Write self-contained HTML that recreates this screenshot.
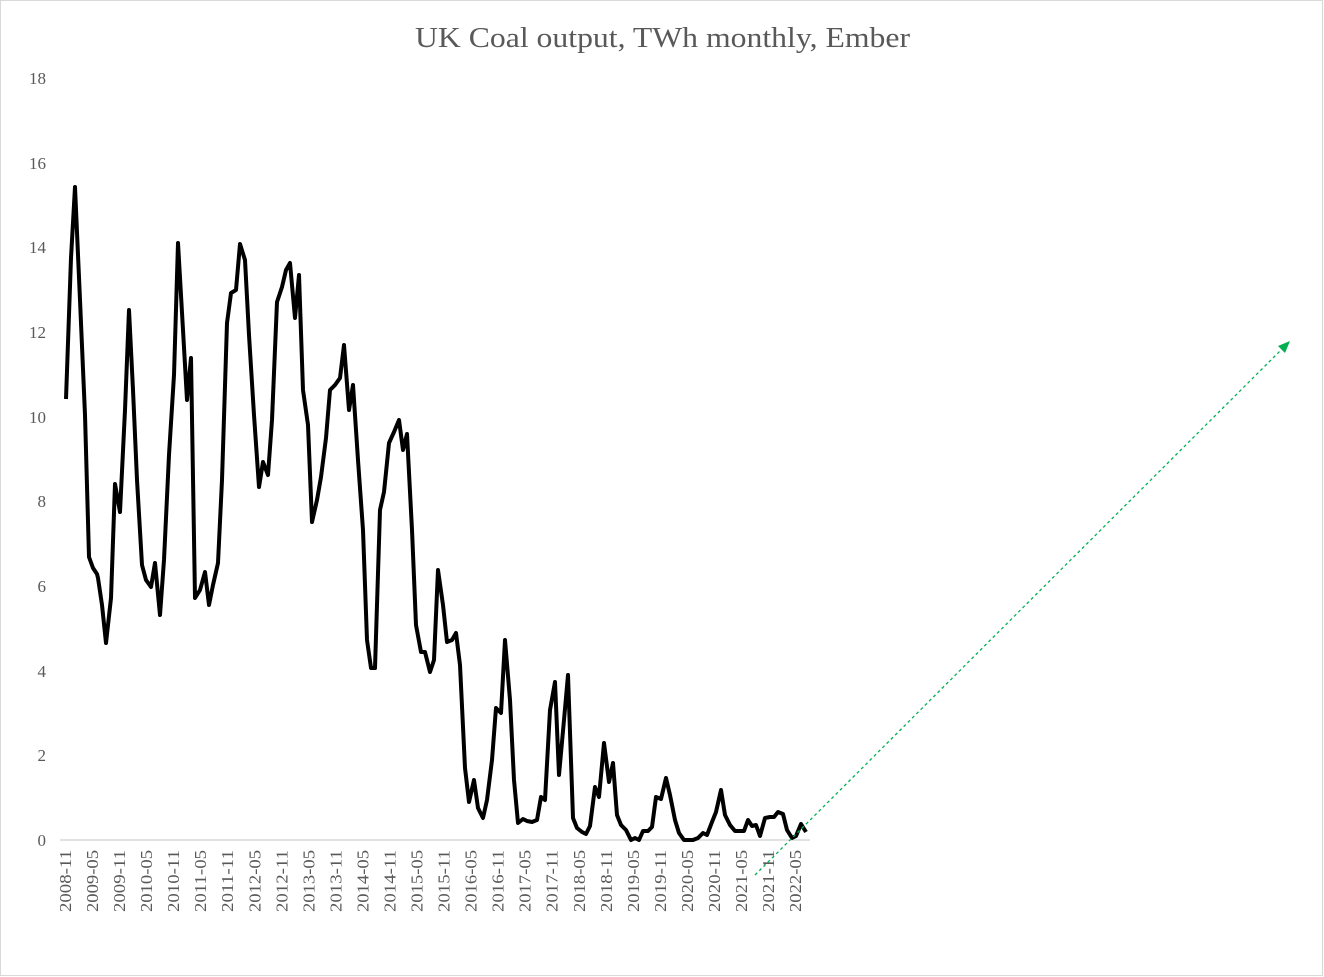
<!DOCTYPE html>
<html><head><meta charset="utf-8"><style>
html,body{margin:0;padding:0;background:#fff}
svg{display:block}
</style></head><body>
<svg width="1324" height="977" xmlns="http://www.w3.org/2000/svg" font-family="'Liberation Serif', serif">
<rect x="0.5" y="0.5" width="1322" height="975" fill="#fff" stroke="#d9d9d9"/>
<text x="415" y="47" font-size="28" fill="#595959" textLength="495" lengthAdjust="spacingAndGlyphs">UK Coal output, TWh monthly, Ember</text>
<g font-size="17" fill="#595959" text-anchor="end">
<text x="46" y="846">0</text><text x="46" y="761">2</text><text x="46" y="677">4</text>
<text x="46" y="592">6</text><text x="46" y="507">8</text><text x="46" y="423">10</text>
<text x="46" y="338">12</text><text x="46" y="253">14</text><text x="46" y="169">16</text>
<text x="46" y="84">18</text>
</g>
<line x1="60" y1="840" x2="810" y2="840" stroke="#d9d9d9" stroke-width="1.5"/>
<g font-size="17" fill="#595959" text-anchor="end">
<text transform="translate(71,850) rotate(-90)" textLength="62" lengthAdjust="spacingAndGlyphs">2008-11</text>
<text transform="translate(98,850) rotate(-90)" textLength="62" lengthAdjust="spacingAndGlyphs">2009-05</text>
<text transform="translate(125.1,850) rotate(-90)" textLength="62" lengthAdjust="spacingAndGlyphs">2009-11</text>
<text transform="translate(152.1,850) rotate(-90)" textLength="62" lengthAdjust="spacingAndGlyphs">2010-05</text>
<text transform="translate(179.2,850) rotate(-90)" textLength="62" lengthAdjust="spacingAndGlyphs">2010-11</text>
<text transform="translate(206.2,850) rotate(-90)" textLength="62" lengthAdjust="spacingAndGlyphs">2011-05</text>
<text transform="translate(233.2,850) rotate(-90)" textLength="62" lengthAdjust="spacingAndGlyphs">2011-11</text>
<text transform="translate(260.3,850) rotate(-90)" textLength="62" lengthAdjust="spacingAndGlyphs">2012-05</text>
<text transform="translate(287.3,850) rotate(-90)" textLength="62" lengthAdjust="spacingAndGlyphs">2012-11</text>
<text transform="translate(314.4,850) rotate(-90)" textLength="62" lengthAdjust="spacingAndGlyphs">2013-05</text>
<text transform="translate(341.4,850) rotate(-90)" textLength="62" lengthAdjust="spacingAndGlyphs">2013-11</text>
<text transform="translate(368.4,850) rotate(-90)" textLength="62" lengthAdjust="spacingAndGlyphs">2014-05</text>
<text transform="translate(395.5,850) rotate(-90)" textLength="62" lengthAdjust="spacingAndGlyphs">2014-11</text>
<text transform="translate(422.5,850) rotate(-90)" textLength="62" lengthAdjust="spacingAndGlyphs">2015-05</text>
<text transform="translate(449.6,850) rotate(-90)" textLength="62" lengthAdjust="spacingAndGlyphs">2015-11</text>
<text transform="translate(476.6,850) rotate(-90)" textLength="62" lengthAdjust="spacingAndGlyphs">2016-05</text>
<text transform="translate(503.6,850) rotate(-90)" textLength="62" lengthAdjust="spacingAndGlyphs">2016-11</text>
<text transform="translate(530.7,850) rotate(-90)" textLength="62" lengthAdjust="spacingAndGlyphs">2017-05</text>
<text transform="translate(557.7,850) rotate(-90)" textLength="62" lengthAdjust="spacingAndGlyphs">2017-11</text>
<text transform="translate(584.8,850) rotate(-90)" textLength="62" lengthAdjust="spacingAndGlyphs">2018-05</text>
<text transform="translate(611.8,850) rotate(-90)" textLength="62" lengthAdjust="spacingAndGlyphs">2018-11</text>
<text transform="translate(638.8,850) rotate(-90)" textLength="62" lengthAdjust="spacingAndGlyphs">2019-05</text>
<text transform="translate(665.9,850) rotate(-90)" textLength="62" lengthAdjust="spacingAndGlyphs">2019-11</text>
<text transform="translate(692.9,850) rotate(-90)" textLength="62" lengthAdjust="spacingAndGlyphs">2020-05</text>
<text transform="translate(720,850) rotate(-90)" textLength="62" lengthAdjust="spacingAndGlyphs">2020-11</text>
<text transform="translate(747,850) rotate(-90)" textLength="62" lengthAdjust="spacingAndGlyphs">2021-05</text>
<text transform="translate(774,850) rotate(-90)" textLength="62" lengthAdjust="spacingAndGlyphs">2021-11</text>
<text transform="translate(801.1,850) rotate(-90)" textLength="62" lengthAdjust="spacingAndGlyphs">2022-05</text>
</g>
<polyline fill="none" stroke="#000" stroke-width="4" stroke-linejoin="round" points="66,399 71,258 75,187 80,300 85,415 89,557 93,568 97,574 98,578 102,605 106,643 111,598 115,484 120,512 125,410 129,310 133,390 137,480 142,565 146,580 151,587 155,563 160,615 164,560 169,455 174,375 178,243 183,330 187,400 191,358 195,598 200,590 205,572 209,605 213,585 218,563 222,480 227,323 231,293 236,290 240,244 245,260 249,335 254,415 259,487 263,462 268,475 272,420 277,302 282,287 286,270 290,263 295,318 299,275 303,390 308,425 312,522 317,500 321,477 326,438 330,390 335,385 340,378 344,345 349,410 353,385 358,460 363,530 367,640 371,668 375,668 380,510 384,492 389,443 394,432 399,420 403,450 407,434 412,530 416,625 421,652 425,652 430,672 434,660 438,570 443,605 447,642 452,640 456,633 460,665 465,768 469,802 474,780 478,808 483,818 487,800 492,760 496,708 501,713 505,640 510,700 514,780 518,823 523,819 527,821 532,822 537,820 541,797 545,800 550,710 555,682 559,775 564,720 568,675 573,818 577,828 582,832 586,834 590,826 595,787 599,797 604,743 609,782 613,763 617,815 621,825 626,830 631,840 635,838 639,840 643,831 648,831 652,827 656,797 661,799 666,778 670,795 675,820 679,833 684,840 688,840 693,840 698,838 703,833 707,835 712,822 716,812 721,790 725,815 730,825 735,831 740,831 744,831 748,820 752,826 756,825 760,836 765,818 770,817 774,817 778,812 783,814 787,830 792,838 796,836 801,824 806,832"/>
<line x1="755" y1="875" x2="1284" y2="347" stroke="#00b050" stroke-width="1.3" stroke-dasharray="3,3"/>
<polygon points="1290,341 1278,346 1285,353" fill="#00b050"/>
</svg>
</body></html>
